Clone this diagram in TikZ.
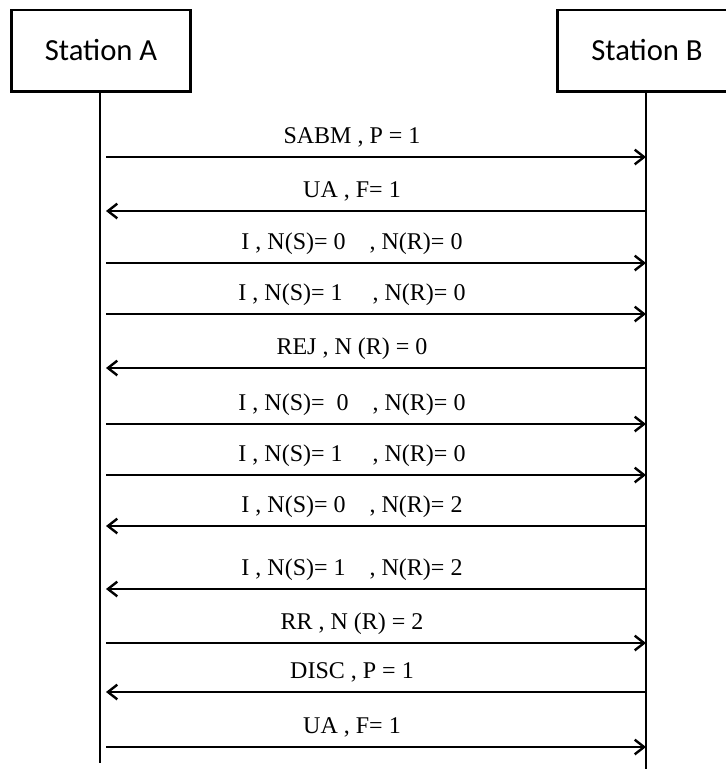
\documentclass[tikz,border=0pt]{standalone}
\usepackage{fontspec}
\setmainfont{Liberation Serif}
\newfontfamily\stationfont{Carlito}
\usetikzlibrary{arrows.meta}
\tikzstyle{station} = [rectangle, draw=black, line width=2pt, minimum width=134.5pt, minimum height=61pt, inner sep=0pt, font=\stationfont\fontsize{23}{27}\selectfont]
\tikzstyle{lifeline} = [line width=2pt]
\tikzstyle{msg} = [line width=1.8pt, -{Straight Barb[length=7pt,width=11pt]}]
\tikzstyle{msglabel} = [anchor=base, inner sep=0pt, font=\fontsize{18}{21}\selectfont]

\begin{document}
\begin{tikzpicture}[x=0.75pt, y=-0.75pt]
	\clip (0,0) rectangle (726,769);
	\node [station] (staA) at (101,50.5) {Station A};
	\node [station] (staB) at (647,50.5) {Station B};
	% lifelines
	\coordinate (endA) at (100,763);
	\coordinate (endB) at (646,775);
	\draw [lifeline] (staA.south -| endA) -- (endA);
	\draw [lifeline] (staB.south -| endB) -- (endB);
	% messages
	\foreach \y/\s/\t/\txt in {
		157/a/b/{SABM , P = 1},
		211/b/a/{UA , F= 1},
		263/a/b/{I , N(S)= 0\quad, N(R)= 0},
		314/a/b/{I , N(S)= 1\quad\ , N(R)= 0},
		368/b/a/{REJ , N (R) = 0},
		424/a/b/{I , N(S)=\ \ 0\quad, N(R)= 0},
		475/a/b/{I , N(S)= 1\quad\ , N(R)= 0},
		526/b/a/{I , N(S)= 0\quad, N(R)= 2},
		589/b/a/{I , N(S)= 1\quad, N(R)= 2},
		643/a/b/{RR , N (R) = 2},
		692/b/a/{DISC , P = 1},
		747/a/b/{UA , F= 1}} {
		\coordinate (a\y) at (106,\y);
		\coordinate (b\y) at (646,\y);
		\draw [msg] (\s\y) -- (\t\y);
		\node [msglabel] (l\y) at (352,\y-14) {\txt};
	}
\end{tikzpicture}
\end{document}
